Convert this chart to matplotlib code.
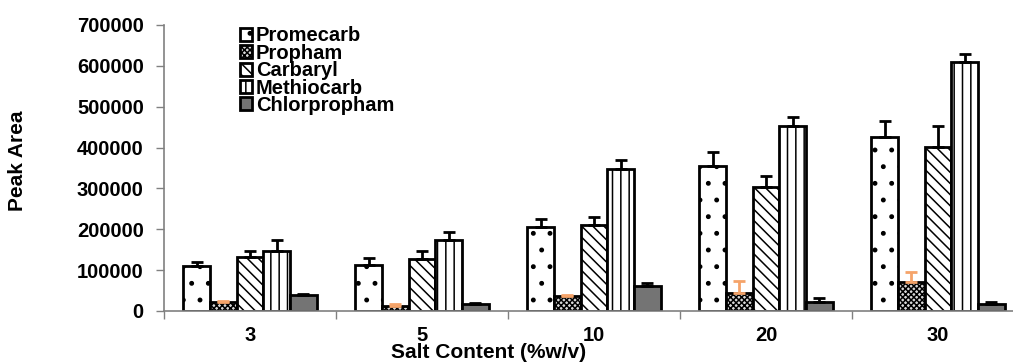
import matplotlib

matplotlib.use("Agg")
import matplotlib.pyplot as plt
import numpy as np

plt.rcParams["font.family"] = ["Liberation Sans", "DejaVu Sans"]
plt.rcParams["font.weight"] = "bold"
plt.rcParams["hatch.linewidth"] = 1.1

salt = ["3", "5", "10", "20", "30"]
series = ["Promecarb", "Propham", "Carbaryl", "Methiocarb", "Chlorpropham"]

promecarb = [110000, 113000, 206000, 356000, 427000]
propham = [22000, 13000, 36000, 44000, 70000]
carbaryl = [132000, 128000, 210000, 304000, 402000]
methiocarb = [147000, 174000, 347000, 453000, 609000]
chlorpropham = [39000, 18000, 61000, 22000, 16000]

promecarb_err = [9000, 16000, 18000, 34000, 37000]
propham_err = [3000, 4000, 3000, 29000, 26000]
carbaryl_err = [14000, 20000, 20000, 26000, 51000]
methiocarb_err = [27000, 20000, 23000, 23000, 20000]
chlorpropham_err = [2000, 1000, 8000, 9000, 6000]

values = [promecarb, propham, carbaryl, methiocarb, chlorpropham]
errors = [promecarb_err, propham_err, carbaryl_err, methiocarb_err, chlorpropham_err]
faces = ["white", "#d8d8d8", "white", "white", "#747474"]
hatches = [".", "xxxxxx", "\\\\\\", "||", None]
err_colors = ["black", "#F5A46A", "black", "black", "black"]

fig = plt.figure(figsize=(10.13, 3.63), dpi=100)
ax = fig.add_axes([164 / 1013, 1 - 311 / 363, 860 / 1013, 286 / 363])

x = np.arange(len(salt))
width = 0.155
for k, name in enumerate(series):
    pos = x + (k - 2) * width
    ax.bar(pos, values[k], width, color=faces[k], edgecolor="black",
           linewidth=2, hatch=hatches[k], label=name, zorder=2)
    ax.errorbar(pos, values[k], yerr=[np.zeros(len(salt)), errors[k]],
                fmt="none", ecolor=err_colors[k], elinewidth=2,
                capsize=4.5, capthick=2, zorder=3)

ax.set_xlim(-0.5, 4.5)
ax.set_ylim(0, 700000)
ax.set_yticks(np.arange(0, 700001, 100000))
ax.set_xticks(x)
ax.set_xticklabels(salt)
ax.set_xticks(np.arange(-0.5, 5, 1), minor=True)
ax.tick_params(axis="x", which="major", length=0, pad=10.5, labelsize=14.5)
ax.tick_params(axis="x", which="minor", length=6, width=1, color="#808080",
               direction="out")
ax.tick_params(axis="y", length=6, width=1, color="#808080", direction="out",
               pad=8.5, labelsize=14.5)
for lab in ax.get_xticklabels() + ax.get_yticklabels():
    lab.set_fontweight("bold")

for side in ["top", "right"]:
    ax.spines[side].set_visible(False)
for side in ["left", "bottom"]:
    ax.spines[side].set_color("#808080")
    ax.spines[side].set_linewidth(1.2)

fig.text(18 / 1013, 1 - 161 / 363, "Peak Area", rotation=90, ha="center",
         va="center", fontsize=15, fontweight="bold")
fig.text(489 / 1013, 1 / 363, "Salt Content (%w/v)", ha="center",
         va="bottom", fontsize=15, fontweight="bold")

ax.legend(loc="upper left", bbox_to_anchor=((240 - 164) / 860, 0.995),
          frameon=False, borderpad=0, borderaxespad=0,
          handlelength=0.6, handleheight=0.6, handletextpad=0.2,
          labelspacing=-0.08, prop={"weight": "bold", "size": 14.5})

fig.savefig("out.png", dpi=100)
